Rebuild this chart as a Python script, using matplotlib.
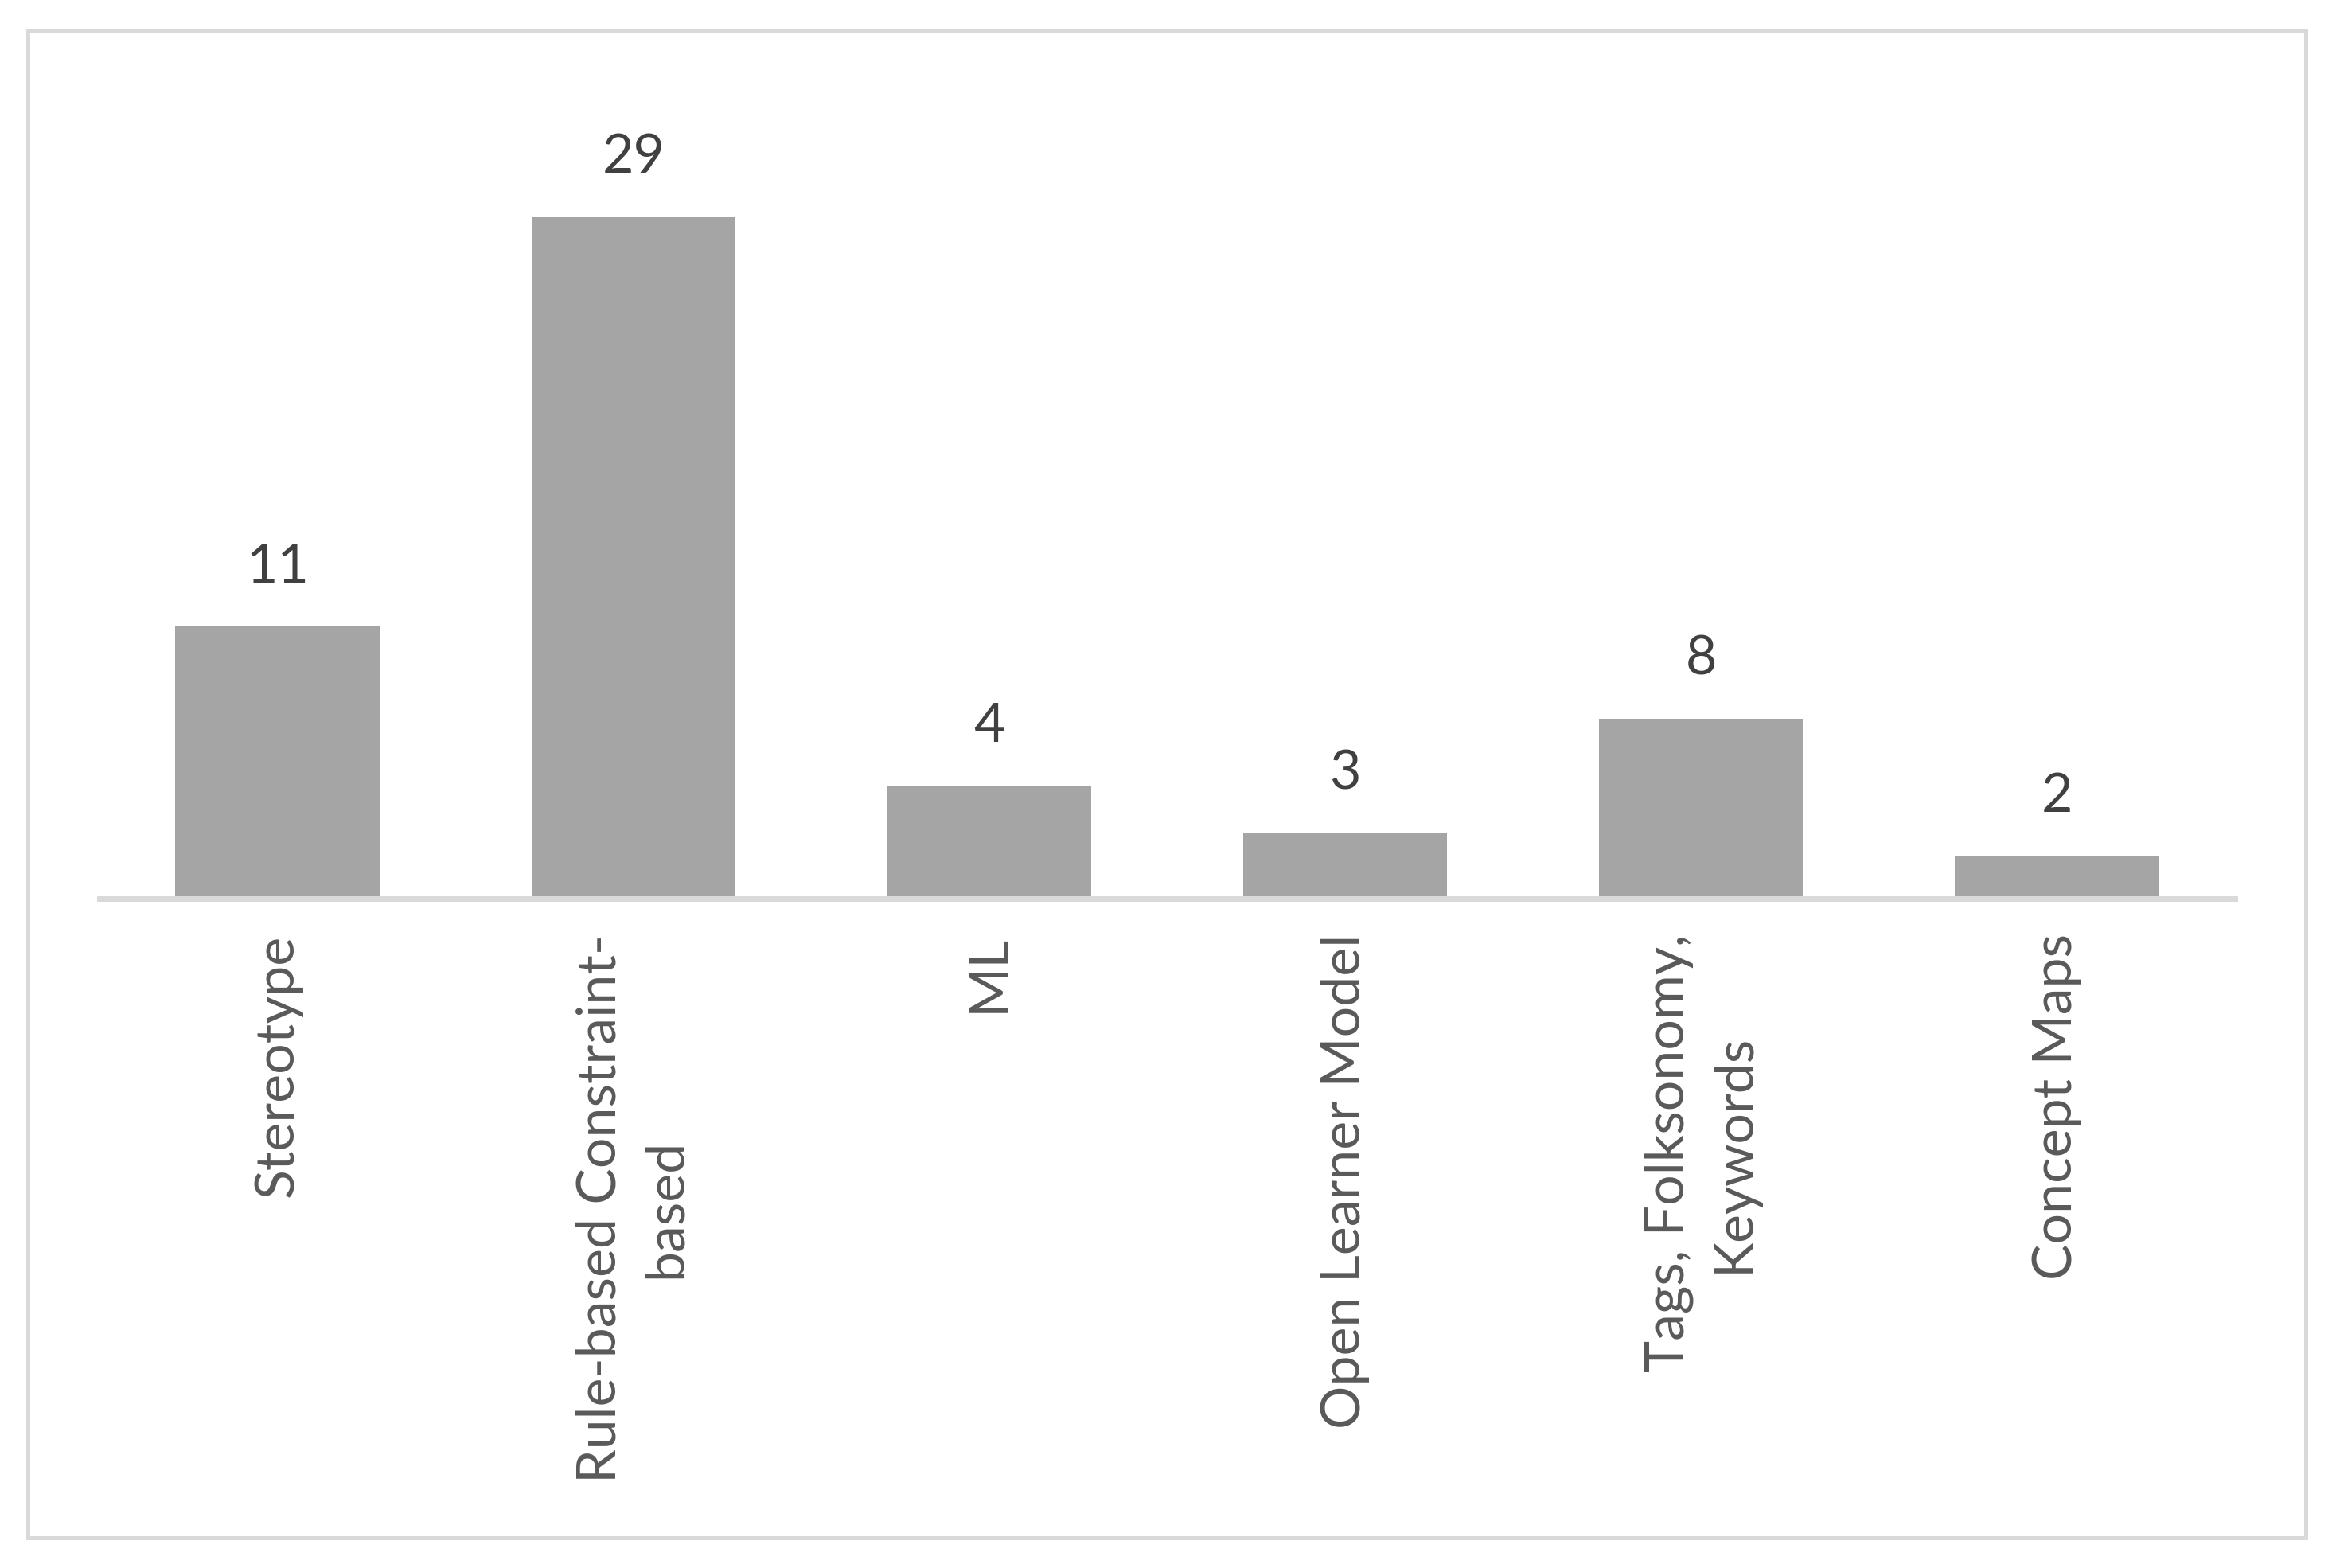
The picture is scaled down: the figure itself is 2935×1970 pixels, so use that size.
import matplotlib
matplotlib.use("Agg")
import matplotlib.pyplot as plt
from matplotlib.patches import Rectangle

categories = ["Stereotype", "Rule-based Constraint-\nbased", "ML",
              "Open Learner Model", "Tags, Folksonomy,\nKeywords", "Concept Maps"]
bar_values = [12.1, 30.3, 5.0, 2.9, 8.0, 1.9]
value_labels = ["11", "29", "4", "3", "8", "2"]

W, H = 2935, 1970
DPI = 100
plt.rcParams['font.family'] = ['Lato', 'DejaVu Sans']

fig = plt.figure(figsize=(W / DPI, H / DPI), dpi=DPI)
fig.patch.set_facecolor("white")

# axes placed in pixel terms: x axis from 125 to 2808, baseline near y=1129
left, right, base, top = 125, 2808, 1129, 100
ax = fig.add_axes([left / W, 1 - base / H, (right - left) / W, (base - top) / H])
px_per_unit = 28.25
ax.set_ylim(0, (base - top) / px_per_unit)
ax.set_xlim(-0.5, len(categories) - 0.5)

x = list(range(len(categories)))
bars = ax.bar(x, bar_values, width=0.573, color="#A5A5A5", zorder=2)

for xi, v, lab in zip(x, bar_values, value_labels):
    ax.annotate(lab, (xi, v), xytext=(0, 40), textcoords="offset points",
                ha="center", va="baseline", fontsize=49, color="#404040")

for s in ["top", "right", "left"]:
    ax.spines[s].set_visible(False)
ax.spines["bottom"].set_color("#D9D9D9")
ax.spines["bottom"].set_linewidth(7 * 72 / DPI)
ax.spines["bottom"].set_zorder(3)
ax.set_yticks([])
ax.set_xticks(x)
ax.set_xticklabels(categories, rotation=90, fontsize=49, color="#595959",
                   ha="center", va="top", multialignment="center", linespacing=1.4)
ax.tick_params(axis="x", length=0, pad=32)

# outer chart border
fig.patches.append(Rectangle((35 / W, 1 - 1932 / H), (2897 - 35) / W, (1932 - 38) / H,
                             transform=fig.transFigure, fill=False,
                             edgecolor="#D9D9D9", linewidth=5 * 72 / DPI))

plt.savefig("out.png", dpi=DPI)
